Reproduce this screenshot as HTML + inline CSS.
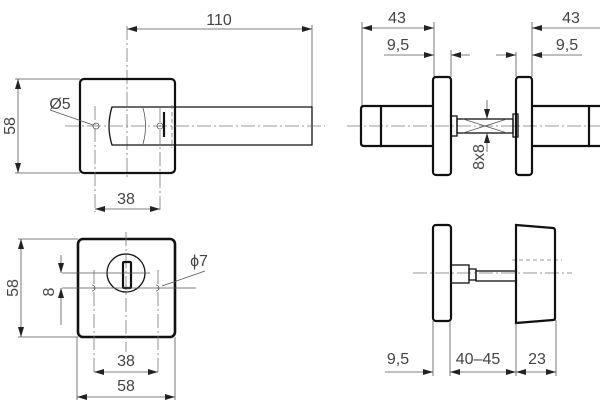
<!DOCTYPE html>
<html><head><meta charset="utf-8"><style>
html,body{margin:0;padding:0;background:#fff;}
svg{display:block}
text{font-family:"Liberation Sans",sans-serif;font-size:16px;fill:#444;}
.d{stroke:#555;stroke-width:0.8;fill:none}
.c{stroke:#777;stroke-width:0.8;fill:none;stroke-dasharray:14 3 2 3}
.o{stroke:#111;stroke-width:2.2;fill:none}
.t{stroke:#111;stroke-width:1.3;fill:none}
.h{stroke:#777;stroke-width:0.8;fill:none;stroke-dasharray:4 3}
</style></head><body>
<svg width="600" height="412" viewBox="0 0 600 412">
<defs>
<marker id="a" viewBox="0 0 10 6" refX="10" refY="3" markerWidth="10" markerHeight="6" orient="auto-start-reverse" markerUnits="userSpaceOnUse"><path d="M0,0 L10,3 L0,6z" fill="#222"/></marker>
</defs>

<line class="d" x1="127" y1="29" x2="312" y2="29" marker-start="url(#a)" marker-end="url(#a)"/>
<text x="219" y="25" text-anchor="middle">110</text>
<line class="d" x1="312" y1="25" x2="312" y2="107"/>
<line class="c" x1="127" y1="26" x2="127" y2="180"/>
<rect class="o" x="80" y="79" width="95" height="94" rx="4"/>
<line class="d" x1="15" y1="79" x2="80" y2="79"/>
<line class="d" x1="15" y1="173" x2="80" y2="173"/>
<line class="d" x1="18" y1="79" x2="18" y2="173" marker-start="url(#a)" marker-end="url(#a)"/>
<text transform="translate(15,126) rotate(-90)" text-anchor="middle">58</text>
<path class="t" d="M312,107 L112,107 Q106,126 112,145 L312,145 Z"/>
<line class="c" x1="65" y1="126" x2="325" y2="126"/>
<circle class="d" cx="96" cy="126" r="3"/>
<circle class="d" cx="160" cy="126" r="3"/>
<line class="c" x1="95" y1="106" x2="95" y2="212"/>
<line class="c" x1="160" y1="108" x2="160" y2="212"/>
<line class="o" x1="164" y1="112" x2="164" y2="137"/>
<line class="h" x1="172" y1="105" x2="172" y2="148"/>
<path class="d" d="M143,108 Q148,126 143,144"/>
<line class="d" x1="95" y1="209" x2="160" y2="209" marker-start="url(#a)" marker-end="url(#a)"/>
<text x="126" y="204" text-anchor="middle">38</text>
<line class="d" x1="50" y1="110" x2="93" y2="125"/>
<text x="60" y="109" text-anchor="middle">Ø5</text>

<line class="c" x1="347" y1="126" x2="600" y2="126"/>
<line class="d" x1="362" y1="22" x2="362" y2="106"/>
<line class="d" x1="434" y1="22" x2="434" y2="77"/>
<line class="d" x1="451" y1="50" x2="451" y2="77"/>
<line class="d" x1="362" y1="28" x2="434" y2="28" marker-start="url(#a)" marker-end="url(#a)"/>
<text x="397" y="23" text-anchor="middle">43</text>
<line class="d" x1="384" y1="55" x2="434" y2="55" marker-end="url(#a)"/>
<line class="d" x1="470" y1="55" x2="451" y2="55" marker-end="url(#a)"/>
<text x="398" y="50" text-anchor="middle">9,5</text>
<rect class="o" x="433" y="77" width="18" height="98" rx="3"/>
<path class="o" d="M433,106 L364,106 Q361,106 361,109 L361,143 Q361,146 364,146 L433,146"/>
<line class="o" x1="381" y1="106" x2="381" y2="146"/>
<rect class="t" x="451" y="116" width="6" height="20"/>
<rect class="t" x="457" y="119" width="56" height="14"/>
<path class="d" d="M463,119 L507,133 M463,133 L507,119"/>
<line class="d" x1="487" y1="100" x2="487" y2="119" marker-end="url(#a)"/>
<line class="d" x1="487" y1="152" x2="487" y2="133" marker-end="url(#a)"/>
<text transform="translate(484,157) rotate(-90)" text-anchor="middle">8x8</text>
<rect class="t" x="513" y="114" width="5" height="23"/>
<rect class="o" x="516" y="77" width="16" height="98" rx="3"/>
<path class="o" d="M532,106 L600,106 M532,146 L600,146"/>
<line class="o" x1="589" y1="106" x2="589" y2="146"/>
<line class="d" x1="516" y1="52" x2="516" y2="77"/>
<line class="d" x1="532" y1="22" x2="532" y2="77"/>
<line class="d" x1="532" y1="28" x2="600" y2="28" marker-start="url(#a)"/>
<text x="571" y="23" text-anchor="middle">43</text>
<line class="d" x1="496" y1="55" x2="516" y2="55" marker-end="url(#a)"/>
<line class="d" x1="582" y1="55" x2="532" y2="55" marker-end="url(#a)"/>
<text x="567" y="50" text-anchor="middle">9,5</text>

<rect class="o" x="78" y="239" width="97" height="98" rx="5" style="stroke-width:2.6"/>
<line class="c" x1="126" y1="232" x2="126" y2="352"/>
<circle class="t" cx="126" cy="273" r="19"/>
<rect class="o" x="123" y="262" width="8" height="26" rx="1"/>
<line class="d" x1="62" y1="273" x2="150" y2="273"/>
<line class="d" x1="62" y1="288" x2="196" y2="288"/>
<path class="d" d="M92,285 A3,3 0 1,1 92,291 M156,285 A3,3 0 1,1 156,291"/>
<line class="c" x1="94" y1="270" x2="94" y2="375"/>
<line class="c" x1="158" y1="270" x2="158" y2="375"/>
<line class="d" x1="61" y1="255" x2="61" y2="273" marker-end="url(#a)"/>
<line class="d" x1="61" y1="325" x2="61" y2="288" marker-end="url(#a)"/>
<text transform="translate(54,292) rotate(-90)" text-anchor="middle">8</text>
<line class="d" x1="18" y1="239" x2="78" y2="239"/>
<line class="d" x1="18" y1="337" x2="78" y2="337"/>
<line class="d" x1="21" y1="239" x2="21" y2="337" marker-start="url(#a)" marker-end="url(#a)"/>
<text transform="translate(18,288) rotate(-90)" text-anchor="middle">58</text>
<line class="d" x1="94" y1="372" x2="158" y2="372" marker-start="url(#a)" marker-end="url(#a)"/>
<text x="126" y="366" text-anchor="middle">38</text>
<line class="d" x1="77" y1="337" x2="77" y2="400"/>
<line class="d" x1="175" y1="337" x2="175" y2="400"/>
<line class="d" x1="77" y1="397" x2="175" y2="397" marker-start="url(#a)" marker-end="url(#a)"/>
<text x="126" y="391" text-anchor="middle">58</text>
<line class="d" x1="205" y1="271" x2="162" y2="286"/>
<text x="199" y="266" text-anchor="middle">ϕ7</text>

<line class="c" x1="413" y1="273" x2="572" y2="273"/>
<line class="h" x1="512" y1="260" x2="562" y2="260"/>
<rect class="o" x="433" y="225" width="18" height="96" rx="3"/>
<rect class="t" x="451" y="265" width="18" height="18"/>
<rect class="t" x="469" y="269" width="7" height="11"/>
<rect class="t" x="476" y="271" width="40" height="10"/>
<path class="o" d="M516,225 L553,228 Q555,228 555,231 L555,318 Q555,320 553,320 L516,323 Z"/>
<line class="d" x1="433" y1="321" x2="433" y2="376"/>
<line class="d" x1="450" y1="321" x2="450" y2="376"/>
<line class="d" x1="516" y1="323" x2="516" y2="376"/>
<line class="d" x1="556" y1="320" x2="556" y2="376"/>
<line class="d" x1="385" y1="372" x2="433" y2="372" marker-end="url(#a)"/>
<line class="d" x1="450" y1="372" x2="516" y2="372" marker-start="url(#a)" marker-end="url(#a)"/>
<line class="d" x1="516" y1="372" x2="556" y2="372" marker-start="url(#a)" marker-end="url(#a)"/>
<text x="398" y="364" text-anchor="middle">9,5</text>
<text x="478" y="364" text-anchor="middle">40–45</text>
<text x="537" y="364" text-anchor="middle">23</text>
</svg>
</body></html>
